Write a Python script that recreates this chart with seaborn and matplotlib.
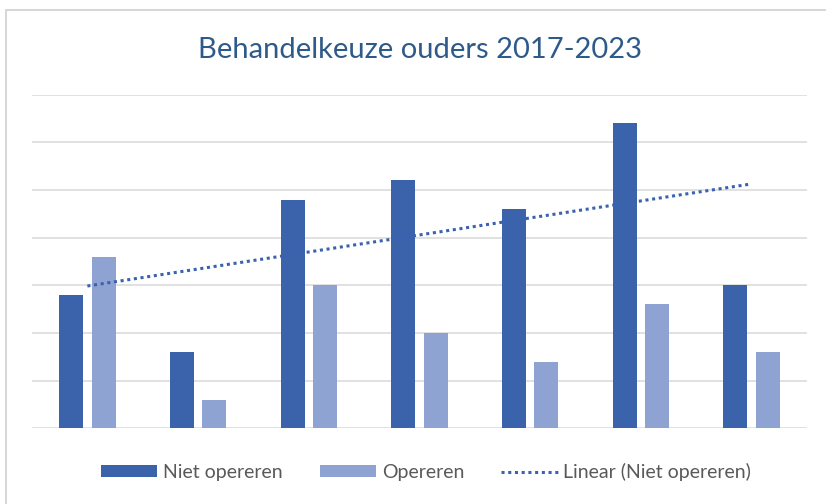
import matplotlib
matplotlib.use("Agg")
import matplotlib.pyplot as plt
import seaborn as sns
import pandas as pd
import numpy as np
from matplotlib.lines import Line2D
from matplotlib.patches import Patch, Rectangle

# ==========================
# data (grid step = 5)
# ==========================
jaren = ["2017", "2018", "2019", "2020", "2021", "2022", "2023"]
niet_opereren = [14, 8, 24, 26, 23, 32, 15]
opereren = [18, 3, 15, 10, 7, 13, 8]
series = ["Niet opereren", "Opereren"]
titel = "Behandelkeuze ouders 2017-2023"

df = pd.DataFrame({
    "jaar": jaren * 2,
    "aantal": niet_opereren + opereren,
    "keuze": [series[0]] * len(jaren) + [series[1]] * len(jaren),
})

donker = "#3B63AC"
licht = "#8FA3D3"
trend_kleur = "#3A62B0"
grid_kleur = "#D9D9D9"

sns.set_style("white")
plt.rcParams["font.family"] = ["Lato", "DejaVu Sans"]

fig = plt.figure(figsize=(8.26, 5.04), dpi=100)
ax = fig.add_axes([32 / 826, 1 - 428.3 / 504, 775 / 826, 333.6 / 504])

# gridlines
for v in range(0, 40, 5):
    ax.axhline(v, color=grid_kleur, lw=1.1, zorder=0)

sns.barplot(data=df, x="jaar", y="aantal", hue="keuze", order=jaren,
            hue_order=series, palette=[donker, licht], saturation=1,
            width=0.587, gap=0.26, linewidth=0, legend=False, ax=ax, zorder=2)

# linear trendline for Niet opereren
xs = np.arange(len(jaren))
a, b = np.polyfit(xs, niet_opereren, 1)
ax.plot(xs, a * xs + b, color=trend_kleur, lw=2.2, dashes=(1, 1.2), zorder=3)

ax.set_xlim(-0.5, len(jaren) - 0.5)
ax.set_ylim(0, 35)
ax.set_xticks([])
ax.set_yticks([])
ax.set_xlabel("")
ax.set_ylabel("")
sns.despine(ax=ax, left=True, bottom=True)

# titel
fig.text(420 / 826, 1 - 58 / 504, titel, ha="center", va="baseline",
         fontsize=21, color="#2E5A8A")

# legenda
handles = [
    Patch(facecolor=donker, edgecolor="none", label=series[0]),
    Patch(facecolor=licht, edgecolor="none", label=series[1]),
    Line2D([0], [0], color=trend_kleur, lw=2.2, dashes=(1, 1.2),
           label="Linear (Niet opereren)"),
]
fig.legend(handles=handles, loc="center", ncol=3,
           bbox_to_anchor=(426 / 826, 1 - 472 / 504), frameon=False,
           fontsize=14, labelcolor="#595959", handlelength=2.9,
           handleheight=0.55, handletextpad=0.3, columnspacing=1.9)

# rand van de grafiek
fig.patches.append(Rectangle((6 / 826, -0.1), 1.2, 1 - 9.5 / 504 + 0.1,
                             transform=fig.transFigure, fill=False,
                             edgecolor="#D0D0D0", lw=1.2))

fig.savefig("out.png", dpi=100)
